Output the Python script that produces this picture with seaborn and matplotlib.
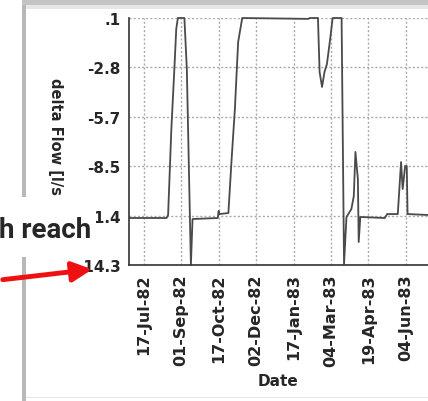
import numpy as np
import pandas as pd
import matplotlib
matplotlib.use("Agg")
import matplotlib.pyplot as plt
import matplotlib.dates as mdates
from matplotlib.patches import Rectangle, FancyArrowPatch
import seaborn as sns

# values
dates = ["1982-06-30", "1982-08-14", "1982-08-16", "1982-08-20", "1982-08-24", "1982-08-26",
         "1982-08-28", "1982-09-05", "1982-09-08", "1982-09-13", "1982-09-15", "1982-10-16",
         "1982-10-17", "1982-10-18", "1982-10-29", "1982-11-02", "1982-11-06", "1982-11-10",
         "1982-11-15", "1983-02-04", "1983-02-06", "1983-02-16", "1983-02-18", "1983-02-21",
         "1983-02-24", "1983-02-27", "1983-03-03", "1983-03-06", "1983-03-17", "1983-03-20",
         "1983-03-23", "1983-03-29", "1983-04-01", "1983-04-03", "1983-04-06", "1983-04-07",
         "1983-04-09", "1983-05-09", "1983-05-12", "1983-05-25", "1983-05-29", "1983-05-31",
         "1983-06-03", "1983-06-05", "1983-06-06", "1983-07-04"]
delta_flow = [-11.56, -11.56, -11.39, -6.37, -2.58, -0.54,
              0.1, 0.1, -2.87, -14.3, -11.62, -11.56,
              -11.15, -11.33, -11.27, -8.12, -5.2, -1.3,
              0.1, 0.05, 0.1, 0.1, -3.05, -3.92,
              -3.05, -2.58, -1.12, 0.1, 0.1, -14.24,
              -11.5, -11.04, -10.28, -7.71, -9.29, -12.96,
              -11.5, -11.56, -11.33, -11.33, -8.3, -9.87,
              -8.53, -8.53, -11.33, -11.39]

tick_dates = ["1982-07-17", "1982-09-01", "1982-10-17", "1982-12-02",
              "1983-01-17", "1983-03-04", "1983-04-19", "1983-06-04"]
y_ticks = [0.1, -2.78, -5.66, -8.54, -11.42, -14.3]
y_labels = [".1", "-2.8", "-5.7", "-8.5", "-11.4", "-14.3"]

df = pd.DataFrame({"Date": pd.to_datetime(dates), "delta Flow": delta_flow})

sns.set_style("white")
W, H = 428, 402
fig = plt.figure(figsize=(W / 100, H / 100), dpi=100)
ax = fig.add_axes([129 / W, 1 - 266 / H, 303 / W, 247 / H])

sns.lineplot(data=df, x="Date", y="delta Flow", ax=ax, color="#4a4a4a",
             linewidth=1.3, clip_on=False)

ax.set_xlim(pd.Timestamp("1982-06-29"), pd.Timestamp("1983-07-06"))
ax.set_ylim(-14.3, 0.1)
ax.set_xticks(pd.to_datetime(tick_dates))
ax.xaxis.set_major_formatter(mdates.DateFormatter("%d-%b-%y"))
ax.set_yticks(y_ticks)
ax.set_yticklabels(y_labels)
ax.grid(True, color="#aaaaaa", linestyle=(0, (1.5, 1.5)), linewidth=1)
for s in ["top", "right"]:
    ax.spines[s].set_visible(False)
for s in ["left", "bottom"]:
    ax.spines[s].set_color("#333333")
    ax.spines[s].set_linewidth(1.2)
ax.tick_params(axis="both", direction="out", length=4, width=1, color="#333333", pad=2)
ax.tick_params(axis="y", labelsize=11)
ax.tick_params(axis="x", labelsize=11.5)
for lbl in ax.get_xticklabels():
    lbl.set_rotation(90)
    lbl.set_fontweight("bold")
for lbl in ax.get_yticklabels():
    lbl.set_fontweight("bold")

ax.set_xlabel("Date", fontsize=11, fontweight="bold", va="center")
ax.xaxis.set_label_coords((278 - 129) / 303, -(382 - 266) / 247)
ax.set_ylabel("delta Flow [l/s]", fontsize=10.5, fontweight="bold", rotation=270, va="center")
ax.yaxis.set_label_coords(-(129 - 56) / 303, 0.51)

# screenshot frame
fig.patches.append(Rectangle((22 / W, 1 - 6 / H), 1, 6 / H, transform=fig.transFigure,
                             facecolor="#c4c4c4", edgecolor="none", zorder=1))
fig.patches.append(Rectangle((22 / W, 1 - 10 / H), 1, 4 / H, transform=fig.transFigure,
                             facecolor="#e6e6e6", edgecolor="none", zorder=1))
fig.patches.append(Rectangle((22 / W, 0), 4 / W, 1 - 6 / H, transform=fig.transFigure,
                             facecolor="#b8b8b8", edgecolor="none", zorder=1))
fig.patches.append(Rectangle((26 / W, 3 / H), 1, 1.5 / H, transform=fig.transFigure,
                             facecolor="#e4e4e4", edgecolor="none", zorder=1))

# overlay from the slide
fig.patches.append(Rectangle((0, 1 - 258 / H), 96 / W, 60 / H, transform=fig.transFigure,
                             facecolor="white", edgecolor="none", zorder=2))
fig.text(91 / W, 1 - 238 / H, "h reach", fontsize=20, fontweight="bold",
         family=["Roboto", "DejaVu Sans"], ha="right", va="baseline", zorder=3)
arrow = FancyArrowPatch((0, 1 - 281 / H), (95 / W, 1 - 270 / H), transform=fig.transFigure,
                        arrowstyle="-|>,head_length=12,head_width=6", color="#ee1111",
                        linewidth=3.5, zorder=4)
fig.patches.append(arrow)

fig.savefig("out.png", dpi=100)
